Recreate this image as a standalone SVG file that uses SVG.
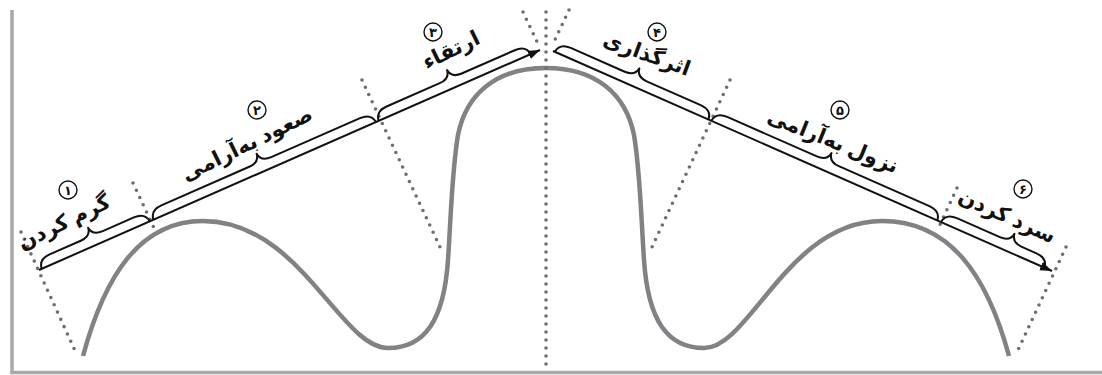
<svg xmlns="http://www.w3.org/2000/svg" width="1102" height="375" viewBox="0 0 1102 375">
<style>
.axis{stroke:#a7a9ac;stroke-width:3.5;fill:none}
.curve{stroke:#808285;stroke-width:4.5;fill:none;stroke-linecap:butt}
.dots{stroke:#6d6e71;stroke-width:3.6;stroke-linecap:round;stroke-dasharray:0 8;fill:none}
.line{stroke:#111;stroke-width:2;fill:none}
.brace{stroke:#111;stroke-width:2;fill:none;stroke-linejoin:round}
.lbl{font-family:"Noto Sans","DejaVu Sans",sans-serif;font-size:21px;font-weight:bold;fill:#111;text-anchor:middle}
.num{font-family:"Noto Sans","DejaVu Sans",sans-serif;font-size:13px;font-weight:bold;fill:#111;text-anchor:middle}
.circ{fill:#fff;stroke:#111;stroke-width:1.4}
</style>
<defs>
<marker id="arr" markerUnits="userSpaceOnUse" markerWidth="14" markerHeight="10" refX="12" refY="4.5" orient="auto">
<path d="M0,0 L12,4.5 L0,9 Z" fill="#111"/>
</marker>
</defs>
<g id="axes">
<line class="axis" x1="12" y1="10" x2="12" y2="374"/>
<line class="axis" x1="10.5" y1="372.5" x2="1102" y2="372.5"/>
</g>
<g id="curve">
<path class="curve" d="M83,356 C105,275 140,221 203,221 C300,221 340,348 388,348 C425,348 444,320 448,260 C451,215 452,170 458,135 C466,95 495,68 546,68 C597,68 626,95 634,135 C640,170 641,215 644,260 C648,320 667,348 704,348 C750,348 788,221 882,221 C950,221 987,275 1009,356"/>
</g>
<g id="guides">
<line class="dots" x1="21" y1="232" x2="77" y2="355"/>
<line class="dots" x1="133" y1="183" x2="154" y2="228"/>
<line class="dots" x1="362" y1="80" x2="440" y2="247"/>
<line class="dots" x1="546" y1="12" x2="546" y2="372"/>
<line class="dots" x1="523" y1="12" x2="540" y2="48"/>
<line class="dots" x1="569" y1="10" x2="552" y2="46"/>
<line class="dots" x1="730" y1="80" x2="652" y2="247"/>
<line class="dots" x1="957" y1="188" x2="938" y2="229"/>
<line class="dots" x1="1066" y1="247" x2="1018" y2="350"/>
</g>
<g id="connectors">
<line class="line" x1="39" y1="270" x2="540" y2="50" marker-end="url(#arr)"/>
<line class="line" x1="553" y1="51" x2="1052" y2="271" marker-end="url(#arr)"/>
</g>
<g id="braces">
<g transform="translate(39,270) rotate(-23.7)">
<path class="brace" d="M3,0 Q4,-10 16,-10 L50,-10 Q61,-10 62,-19 Q63,-10 74,-10 L108,-10 Q120,-10 121,0"/>
</g>
<g transform="translate(39,270) rotate(-23.7)">
<path class="brace" d="M125,0 Q126,-10 138,-10 L234,-10 Q245,-10 246,-19 Q247,-10 258,-10 L355,-10 Q367,-10 368,0"/>
</g>
<g transform="translate(39,270) rotate(-23.7)">
<path class="brace" d="M371,0 Q372,-10 384,-10 L442,-10 Q453,-10 454,-19 Q455,-10 466,-10 L524,-10 Q536,-10 537,0"/>
</g>
<g transform="translate(553,51) rotate(23.8)">
<path class="brace" d="M2,0 Q3,-10 15,-10 L74,-10 Q85,-10 86,-19 Q87,-10 98,-10 L157,-10 Q169,-10 170,0"/>
</g>
<g transform="translate(553,51) rotate(23.8)">
<path class="brace" d="M173,0 Q174,-10 186,-10 L284,-10 Q295,-10 296,-19 Q297,-10 308,-10 L407,-10 Q419,-10 420,0"/>
</g>
<g transform="translate(553,51) rotate(23.8)">
<path class="brace" d="M424,0 Q425,-10 437,-10 L484,-10 Q495,-10 496,-19 Q497,-10 508,-10 L524,-10 Q536,-10 537,0"/>
</g>
</g>
<g id="stage1">
<text class="lbl" transform="translate(64,222) rotate(-26)" dy="7">گرم کردن</text>
<circle class="circ" cx="68" cy="190" r="9"/><text class="num" x="68" y="195">۱</text>
</g>
<g id="stage2">
<text class="lbl" transform="translate(247,144) rotate(-26)" dy="7">صعود به‌آرامی</text>
<circle class="circ" cx="257" cy="110" r="9"/><text class="num" x="257" y="115">۲</text>
</g>
<g id="stage3">
<text class="lbl" transform="translate(451,50) rotate(-26)" dy="7">ارتقاء</text>
<circle class="circ" cx="433" cy="32" r="9"/><text class="num" x="433" y="37">۳</text>
</g>
<g id="stage4">
<text class="lbl" transform="translate(647,54) rotate(20)" dy="7">اثرگذاری</text>
<circle class="circ" cx="657" cy="32" r="9"/><text class="num" x="657" y="37">۴</text>
</g>
<g id="stage5">
<text class="lbl" transform="translate(833,141) rotate(22)" dy="7">نزول به‌آرامی</text>
<circle class="circ" cx="840" cy="110" r="9"/><text class="num" x="840" y="115">۵</text>
</g>
<g id="stage6">
<text class="lbl" transform="translate(1007,216) rotate(24)" dy="7">سرد کردن</text>
<circle class="circ" cx="1023" cy="189" r="9"/><text class="num" x="1023" y="194">۶</text>
</g>
</svg>
